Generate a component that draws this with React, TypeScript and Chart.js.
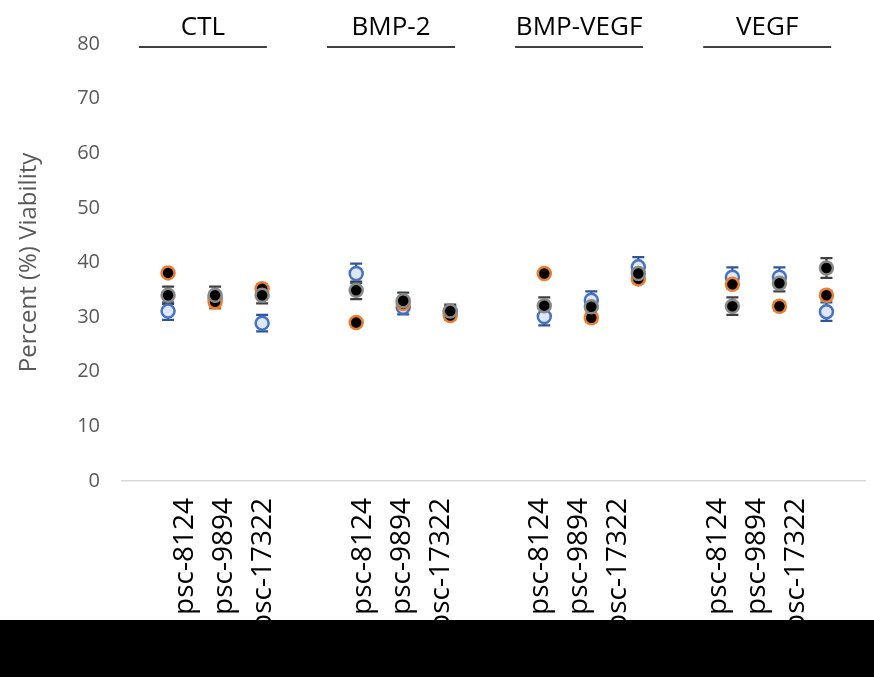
import React, { useEffect, useRef } from 'react';
import { Chart, registerables } from 'chart.js';

Chart.register(...registerables);

// ---- data ----
const groups = ['CTL', 'BMP-2', 'BMP-VEGF', 'VEGF'];
const cellLines = ['psc-8124', 'psc-9894', 'psc-17322'];

const orangeValues = [38.1, 32.8, 35.2, 29.0, 32.5, 30.3, 38.0, 29.9, 37.0, 36.0, 32.0, 34.0];
const orangeErrors = [0.6, 1.2, 0.8, 0.5, 1.0, 0.8, 0.6, 0.8, 0.8, 0.8, 0.8, 0.8];

const blueValues = [31.1, 33.5, 28.9, 38.0, 31.8, 31.0, 30.1, 33.1, 39.2, 37.3, 37.3, 31.0];
const blueErrors = [1.6, 1.0, 1.5, 1.8, 1.3, 1.0, 1.6, 1.6, 1.8, 1.8, 1.8, 1.7];

const blackValues = [34.0, 34.0, 34.0, 34.9, 33.0, 31.1, 32.1, 31.9, 38.0, 32.0, 36.2, 39.0];
const blackErrors = [1.6, 1.6, 1.5, 1.6, 1.5, 1.2, 1.5, 1.5, 1.4, 1.6, 1.5, 1.8];

const yMin = 0;
const yMax = 80;
const yStep = 10;

// ---- layout constants ----
const W = 874;
const H = 677;
const GROUP_SLOTS = 4; // 3 cell lines + 1 gap
const LABEL_GROUP_STEP = 4.55;
const HEADER_SHIFT = 0.74;

const catCount = groups.length * cellLines.length;
const xIndex = (k: number) => Math.floor(k / cellLines.length) * GROUP_SLOTS + (k % cellLines.length);
const labelSlots = Array.from({ length: catCount }, (_, k) =>
  Math.floor(k / cellLines.length) * LABEL_GROUP_STEP + (k % cellLines.length)
);
const labelTexts = Array.from({ length: catCount }, (_, k) => cellLines[k % cellLines.length]);

const toPoints = (vals: number[]) => vals.map((v, k) => ({ x: xIndex(k), y: v }));

const FONT = '"Open Sans", "Noto Sans", sans-serif';

const errorBarPlugin = {
  id: 'errorBars',
  beforeDatasetsDraw(chart: any) {
    const { ctx } = chart;
    const x = chart.scales.x;
    const y = chart.scales.y;
    const metas = chart.getSortedVisibleDatasetMetas().slice().reverse();
    metas.forEach((meta: any) => {
      const ds: any = chart.data.datasets[meta.index];
      const errs: number[] = ds.errors || [];
      ctx.save();
      ctx.strokeStyle = ds.errorColor;
      ctx.lineWidth = 2.2;
      ds.data.forEach((p: any, k: number) => {
        const e = errs[k] || 0;
        const px = x.getPixelForValue(p.x);
        const t = y.getPixelForValue(p.y + e);
        const b = y.getPixelForValue(p.y - e);
        ctx.beginPath();
        ctx.moveTo(px, t);
        ctx.lineTo(px, b);
        ctx.moveTo(px - 6, t);
        ctx.lineTo(px + 6, t);
        ctx.moveTo(px - 6, b);
        ctx.lineTo(px + 6, b);
        ctx.stroke();
      });
      ctx.restore();
    });
  },
};

const headerPlugin = {
  id: 'groupHeaders',
  afterDraw(chart: any) {
    const { ctx, chartArea } = chart;
    const x = chart.scales.x;
    ctx.save();
    ctx.font = `26px ${FONT}`;
    ctx.fillStyle = '#000';
    ctx.strokeStyle = '#000';
    ctx.lineWidth = 1.6;
    ctx.textAlign = 'center';
    ctx.textBaseline = 'alphabetic';
    groups.forEach((g, gi) => {
      const cx = x.getPixelForValue(gi * GROUP_SLOTS + HEADER_SHIFT);
      ctx.fillText(g, cx, chartArea.top - 9);
      ctx.beginPath();
      ctx.moveTo(cx - 64, chartArea.top + 3);
      ctx.lineTo(cx + 64, chartArea.top + 3);
      ctx.stroke();
    });
    ctx.restore();
  },
};

export default function App() {
  const canvasRef = useRef<HTMLCanvasElement | null>(null);

  useEffect(() => {
    document.body.style.margin = '0';
    const canvas = canvasRef.current;
    if (!canvas) return;
    const chart = new Chart(canvas, {
      type: 'scatter',
      data: {
        datasets: [
          {
            label: 'black',
            data: toPoints(blackValues),
            errors: blackErrors,
            errorColor: '#404040',
            backgroundColor: '#000',
            borderColor: '#8a8a8a',
            borderWidth: 2.5,
            pointRadius: 6.5,
            order: 0,
          } as any,
          {
            label: 'orange',
            data: toPoints(orangeValues),
            errors: orangeErrors,
            errorColor: '#C55A11',
            backgroundColor: '#000',
            borderColor: '#ED7D31',
            borderWidth: 2.5,
            pointRadius: 6.5,
            order: 1,
          } as any,
          {
            label: 'blue',
            data: toPoints(blueValues),
            errors: blueErrors,
            errorColor: '#2F5597',
            backgroundColor: '#dfe7f6',
            borderColor: '#4472C4',
            borderWidth: 2.5,
            pointRadius: 6.5,
            order: 2,
          } as any,
        ],
      },
      options: {
        animation: false,
        responsive: false,
        devicePixelRatio: 1,
        layout: { padding: { top: 44, left: 0, right: 0, bottom: 0 } },
        plugins: {
          legend: { display: false },
          tooltip: { enabled: false },
        },
        scales: {
          x: {
            type: 'linear',
            position: 'bottom',
            weight: 0,
            min: -0.98,
            max: 14.82,
            grid: { display: false, drawTicks: false },
            border: { display: true, color: '#d9d9d9', width: 1.5 },
            ticks: { display: false },
            afterFit: (s: any) => {
              s.height = 0;
            },
          },
          xl: {
            type: 'linear',
            position: 'bottom',
            weight: 1,
            min: -1.62,
            max: 17.42,
            grid: { display: false, drawTicks: false },
            border: { display: false },
            afterBuildTicks: (s: any) => {
              s.ticks = labelSlots.map((v) => ({ value: v }));
            },
            afterFit: (s: any) => {
              s.height = H - 481;
            },
            ticks: {
              autoSkip: false,
              maxRotation: 90,
              minRotation: 90,
              padding: 17,
              color: '#000',
              font: { family: FONT, size: 28 },
              callback: (_v: any, i: number) => labelTexts[i],
            },
          },
          y: {
            min: yMin,
            max: yMax,
            grid: { display: false, drawTicks: false },
            border: { display: false },
            ticks: {
              stepSize: yStep,
              padding: 22,
              color: '#595959',
              font: { family: FONT, size: 20 },
            },
            title: {
              display: true,
              text: 'Percent (%) Viability',
              color: '#595959',
              font: { family: FONT, size: 24 },
              padding: { top: 15, bottom: 0 },
            },
            afterFit: (s: any) => {
              s.width = 122;
            },
          },
        },
      } as any,
      plugins: [errorBarPlugin, headerPlugin],
    });
    return () => chart.destroy();
  }, []);

  return (
    <div style={{ position: 'relative', width: W, height: H, background: '#fff', overflow: 'hidden' }}>
      <canvas ref={canvasRef} width={W} height={H} style={{ display: 'block' }} />
      <div style={{ position: 'absolute', left: 0, top: 620, width: W, height: H - 620, background: '#000' }} />
    </div>
  );
}
